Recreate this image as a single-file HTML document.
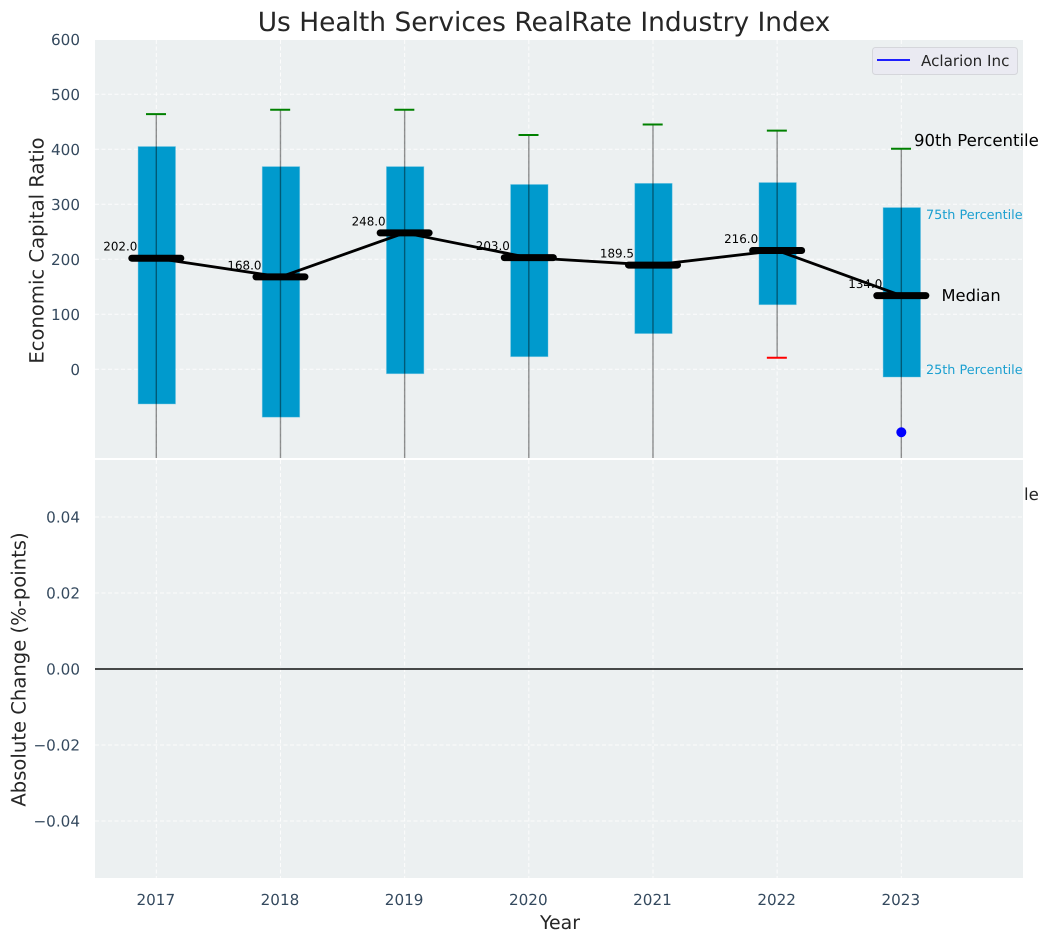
<!DOCTYPE html>
<html lang="en">
<head>
<meta charset="utf-8">
<title>Us Health Services RealRate Industry Index</title>
<style>
html,body{margin:0;padding:0;background:#fff;width:1049px;height:942px;overflow:hidden}
svg{display:block}
text{font-family:"DejaVu Sans","Liberation Sans",sans-serif;text-rendering:geometricPrecision}
</style>
</head>
<body>
<svg id="chart" xmlns="http://www.w3.org/2000/svg" width="1049" height="942" viewBox="0 0 1049 942">
  <defs><clipPath id="top-clip"><rect x="95" y="40" width="928" height="418"/></clipPath></defs>
  <g id="root"></g>
</svg>
<script>
const years = [2017, 2018, 2019, 2020, 2021, 2022, 2023];
const medians = [202, 168, 248, 203, 189.5, 216, 134];
const q75 = [405, 368.5, 368.5, 336, 338, 339.5, 294];
const q25 = [-63, -87, -8, 23, 65, 117.5, -14];
const p90 = [464, 472, 472, 426, 445, 434, 401];
const p10 = [-260, -290, -210, -200, -170, 21, -170];
const companyValues = [null, null, null, null, null, null, -114.5];
const topTicks = [0, 100, 200, 300, 400, 500, 600];
const bottomTicks = [-0.04, -0.02, 0, 0.02, 0.04];
const bottomTickLabels = ["\u22120.04", "\u22120.02", "0.00", "0.02", "0.04"];

const PLOT_L = 95, PLOT_R = 1023, TOP_T = 40, TOP_B = 458, BOT_T = 460, BOT_B = 878;
const xScale = v => 156.3 + (v - 2017) * 124.17;
const yTop = v => 369.3 - v * 0.55;
const yBottom = v => 669 - v * 3800;
const NS = "http://www.w3.org/2000/svg";
const root = document.getElementById("root");

function make(tag, attrs, parent, txt) {
  const el = document.createElementNS(NS, tag);
  for (const k in attrs) el.setAttribute(k, attrs[k]);
  if (txt !== undefined) el.textContent = txt;
  (parent || root).appendChild(el);
  return el;
}
let el;

// top panel
el = make("rect", {x: PLOT_L, y: TOP_T, width: PLOT_R - PLOT_L, height: TOP_B - TOP_T, fill: "#ecf0f1"});



topTicks.forEach(t => {
  const l = make("line", {x1: PLOT_L, x2: PLOT_R, y1: yTop(t), y2: yTop(t), stroke: "#fff", "stroke-width": 1, "stroke-dasharray": "4 2.5", opacity: .85});
  
  
  const lb = make("text", {x: 80, y: yTop(t) + 5.7, "text-anchor": "end", "font-size": 15.2, fill: "#34495e"}, root, String(t));
  
  
});

years.forEach(y => {
  const a = make("line", {x1: xScale(y), x2: xScale(y), y1: TOP_T, y2: TOP_B, stroke: "#fff", "stroke-width": 1, "stroke-dasharray": "4 2.5", opacity: .85});
  
  
});

// hidden-behind-panel overflowing label (only the tail shows past the panel edge)
el = make("text", {x: 914, y: 500, "font-size": 16.55, fill: "#262626"}, root, "10th Percentile");



// bottom panel
el = make("rect", {x: PLOT_L, y: BOT_T, width: PLOT_R - PLOT_L, height: BOT_B - BOT_T, fill: "#ecf0f1"});



bottomTicks.forEach((t, i) => {
  const l = make("line", {x1: PLOT_L, x2: PLOT_R, y1: yBottom(t), y2: yBottom(t), stroke: "#fff", "stroke-width": 1, "stroke-dasharray": "4 2.5", opacity: .85});
  
  
  const lb = make("text", {x: 80, y: yBottom(t) + 5.7, "text-anchor": "end", "font-size": 15.2, fill: "#34495e"}, root, bottomTickLabels[i]);
  
  
});

years.forEach(y => {
  const a = make("line", {x1: xScale(y), x2: xScale(y), y1: BOT_T, y2: BOT_B, stroke: "#fff", "stroke-width": 1, "stroke-dasharray": "4 2.5", opacity: .85});
  
  
  const lb = make("text", {x: xScale(y) - 0.5, y: 905, "text-anchor": "middle", "font-size": 15.2, fill: "#34495e"}, root, String(y));
  
  
});

el = make("rect", {x: PLOT_L, width: PLOT_R - PLOT_L, y: yBottom(0) - 0.7, height: 1.4, fill: "#000"});



// top panel marks
const marks = make("g", {"clip-path": "url(#top-clip)"});



years.forEach((y, i) => {
  const bar = make("rect", {x: xScale(y) - 18.2, width: 37.4, y: yTop(q75[i]), height: yTop(q25[i]) - yTop(q75[i]), fill: "#009acd", stroke: "#66c2e2", "stroke-opacity": .5, "stroke-width": 0.8}, marks);
  
  
  const w = make("line", {x1: xScale(y), x2: xScale(y), y1: yTop(p90[i]), y2: yTop(p10[i]), stroke: "#000", "stroke-width": 1.4, opacity: .42}, marks);
  
  
  const c1 = make("line", {x1: xScale(y) - 10.3, x2: xScale(y) + 9.7, y1: yTop(p90[i]), y2: yTop(p90[i]), stroke: "#008000", "stroke-width": 2}, marks);
  
  
  const c2 = make("line", {x1: xScale(y) - 10.3, x2: xScale(y) + 9.7, y1: yTop(p10[i]), y2: yTop(p10[i]), stroke: "#ff0000", "stroke-width": 2}, marks);
  
  
});

el = make("polyline", {points: years.map((y, i) => xScale(y) + "," + yTop(medians[i])).join(" "), fill: "none", stroke: "#000", "stroke-width": 2.8}, marks);



years.forEach((y, i) => {
  const m = make("line", {x1: xScale(y) - 24.5, x2: xScale(y) + 24.5, y1: yTop(medians[i]), y2: yTop(medians[i]), stroke: "#000", "stroke-width": 7, "stroke-linecap": "round"}, marks);
  
  
  const lb = make("text", {x: xScale(y) - 19, y: yTop(medians[i]) - 7.5, "text-anchor": "end", "font-size": 11.9, fill: "#000"}, root, medians[i].toFixed(1));
  
  
  if (companyValues[i] !== null) {
    const d = make("circle", {cx: xScale(y), cy: yTop(companyValues[i]), r: 5, fill: "#0000ff"}, marks);
    
    
  }
});

// annotations
el = make("text", {x: 914, y: 146, "font-size": 16.55, fill: "#000"}, root, "90th Percentile");


el = make("text", {x: 926, y: 219, "font-size": 12.8, fill: "#1a9fd0"}, root, "75th Percentile");


el = make("text", {x: 941.5, y: 301, "font-size": 16.3, fill: "#000"}, root, "Median");


el = make("text", {x: 926, y: 374, "font-size": 12.8, fill: "#1a9fd0"}, root, "25th Percentile");



// legend
const legend = make("g", {});


el = make("rect", {x: 872.5, y: 47.5, width: 145, height: 27, rx: 3, fill: "#eaeaf2", stroke: "#d5d6db", "stroke-width": 1}, legend);


el = make("line", {x1: 877, x2: 910, y1: 60, y2: 60, stroke: "#0000ff", "stroke-width": 1.8}, legend);


el = make("text", {x: 921, y: 66, "font-size": 15.15, fill: "#262626"}, legend, "Aclarion Inc");



// titles
el = make("text", {x: 544, y: 31, "text-anchor": "middle", "font-size": 26.45, fill: "#262626"}, root, "Us Health Services RealRate Industry Index");


el = make("text", {x: 560, y: 929, "text-anchor": "middle", "font-size": 18.9, fill: "#262626"}, root, "Year");


el = make("text", {transform: "translate(43.5 250.5) rotate(-90)", "text-anchor": "middle", "font-size": 19.6, fill: "#262626"}, root, "Economic Capital Ratio");


el = make("text", {transform: "translate(25.5 669.5) rotate(-90)", "text-anchor": "middle", "font-size": 19.6, fill: "#262626"}, root, "Absolute Change (%-points)");


</script>
</body>
</html>
